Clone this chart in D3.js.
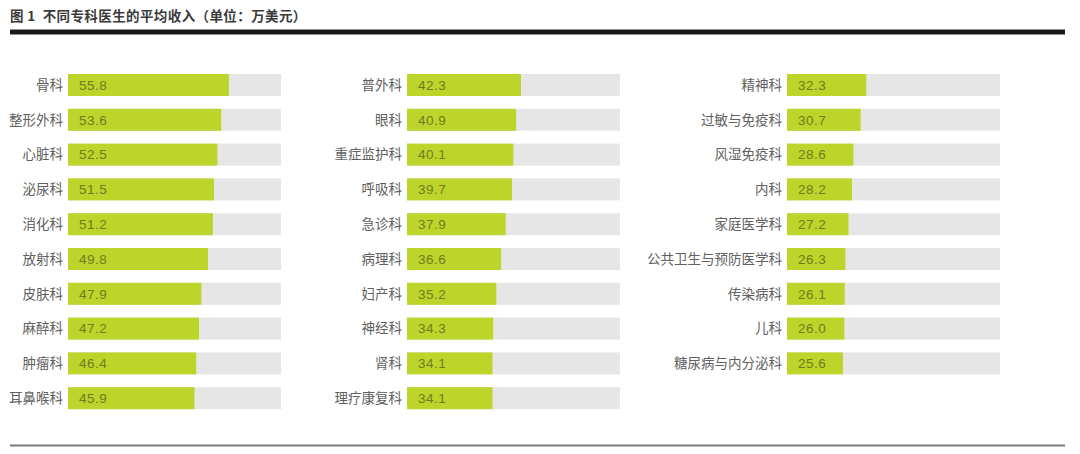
<!DOCTYPE html>
<html>
<head>
<meta charset="utf-8">
<script src="https://cdn.jsdelivr.net/npm/d3@7"></script>
<style>
  html, body { margin: 0; padding: 0; background: #fff; }
  svg { display: block; font-family: "Noto Sans CJK SC", "Noto Sans", sans-serif; }
  .title { font-size: 13.5px; font-weight: bold; fill: #3a3a3a; white-space: pre; letter-spacing: 0.4px; }
  .cat { font-size: 13.5px; fill: #606060; }
  .val { font-size: 13.5px; fill: #6e7c1f; font-family: "Liberation Sans Narrow", "Liberation Sans", sans-serif; letter-spacing: 0.5px; }
</style>
</head>
<body>
<svg id="chart" width="1080" height="454"></svg>
<script>
// data
var col1Names  = ['骨科','整形外科','心脏科','泌尿科','消化科','放射科','皮肤科','麻醉科','肿瘤科','耳鼻喉科'];
var col1Values = [55.8, 53.6, 52.5, 51.5, 51.2, 49.8, 47.9, 47.2, 46.4, 45.9];
var col2Names  = ['普外科','眼科','重症监护科','呼吸科','急诊科','病理科','妇产科','神经科','肾科','理疗康复科'];
var col2Values = [42.3, 40.9, 40.1, 39.7, 37.9, 36.6, 35.2, 34.3, 34.1, 34.1];
var col3Names  = ['精神科','过敏与免疫科','风湿免疫科','内科','家庭医学科','公共卫生与预防医学科','传染病科','儿科','糖尿病与内分泌科'];
var col3Values = [32.3, 30.7, 28.6, 28.2, 27.2, 26.3, 26.1, 26.0, 25.6];
var titleText  = '图 1  不同专科医生的平均收入（单位：万美元）';

var
  svg = d3.select('#chart'),
  trackW = 213,
  colX = [68, 407, 787],
  columns = [
    {names: col1Names, values: col1Values},
    {names: col2Names, values: col2Values},
    {names: col3Names, values: col3Values}
  ],
  // bars do not start at zero in the original; shared scale across columns
  xScale = d3.scaleLinear().domain([9.5, 70.8]).range([0, trackW]),
  yScale = d3.scaleBand().domain(d3.range(10)).range([74, 409.2]).paddingInner(0.368).paddingOuter(0)
  ;

svg.append('text')
  .attr('class', 'title')
  .attr('x', 10)
  .attr('y', 21)
  .text(titleText);

svg.append('rect')
  .attr('x', 10).attr('y', 29.5)
  .attr('width', 1055).attr('height', 5)
  .attr('fill', '#1a1a1a');

svg.append('rect')
  .attr('x', 10).attr('y', 444.5)
  .attr('width', 1055).attr('height', 2)
  .attr('fill', '#7a7a7a');

columns.forEach(function(col, c) {
  var rows = col.names.map(function(n, i) { return {name: n, value: col.values[i], i: i}; });

  var g = svg.append('g')
    .attr('transform', 'translate(' + colX[c] + ',0)');

  var row = g.selectAll('.row')
    .data(rows)
    .enter().append('g')
    .attr('class', 'row')
    .attr('transform', d => 'translate(0,' + yScale(d.i) + ')');

  row.append('rect')
    .attr('width', trackW)
    .attr('height', yScale.bandwidth())
    .attr('fill', '#e6e6e6');

  row.append('rect')
    .attr('width', d => xScale(d.value))
    .attr('height', yScale.bandwidth())
    .attr('fill', '#bdd42b');

  row.append('text')
    .attr('class', 'val')
    .attr('x', 11)
    .attr('y', yScale.bandwidth() / 2)
    .attr('dy', '0.36em')
    .text(d => d.value.toFixed(1));

  row.append('text')
    .attr('class', 'cat')
    .attr('x', -5)
    .attr('y', yScale.bandwidth() / 2)
    .attr('dy', '0.36em')
    .attr('text-anchor', 'end')
    .text(d => d.name);
});
</script>
</body>
</html>
